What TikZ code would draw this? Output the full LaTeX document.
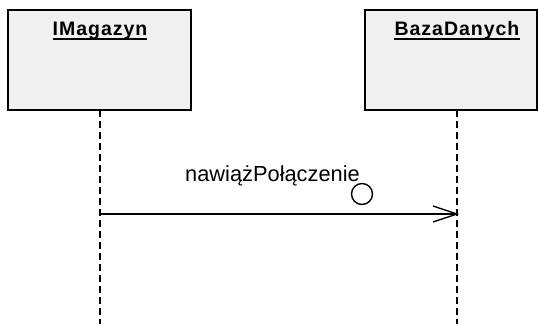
\documentclass[tikz,border=0pt]{standalone}
\usepackage{fontspec}
\setmainfont{Liberation Sans}
\newfontfamily\objfont[LetterSpace=5]{Liberation Sans}
\begin{document}
\begin{tikzpicture}[x=1pt,y=-1pt,
  objbox/.style={draw=black, line width=1.6pt, fill=black!6, inner sep=0pt, minimum width=#1, minimum height=100pt},
  objname/.style={font=\objfont\fontsize{19.5}{22}\selectfont\bfseries, inner sep=0pt, anchor=base},
  lifeline/.style={line width=1.4pt, dash pattern=on 7pt off 4pt},
  msg/.style={line width=1.4pt},
  msglabel/.style={font=\fontsize{21.8}{24}\selectfont, inner sep=0pt, anchor=base}
]
\useasboundingbox (0,0) rectangle (538,324);

% object boxes
\node[objbox=183pt] (magbox) at (99.5,60) {};
\node[objbox=172pt] (dbbox) at (451,60) {};

% object names (underlined)
\node[objname] (magname) at (100,35.5) {IMagazyn};
\node[objname] (dbname) at (457,35.5) {BazaDanych};
\draw[line width=1.5pt] ([yshift=-3.5pt]magname.base west) -- ([yshift=-3.5pt]magname.base east);
\draw[line width=1.5pt] ([yshift=-3.5pt]dbname.base west) -- ([yshift=-3.5pt]dbname.base east);

% lifelines
\coordinate (magtop) at (100,110);
\coordinate (magend) at (100,324);
\coordinate (dbtop) at (457,110);
\coordinate (dbend) at (457,324);
\draw[lifeline] (magtop) -- (magend);
\draw[lifeline] (dbtop) -- (dbend);

% message
\coordinate (msgfrom) at (100,214);
\coordinate (msgto) at (457,214);
\draw[msg] (msgfrom) -- (msgto);
\draw[msg] (433,206) -- (msgto) -- (433,222);
\node[msglabel] (msgname) at (272.5,181) {nawiążPołączenie};
\draw[line width=1.4pt] (362,194) circle (10.5);
\end{tikzpicture}
\end{document}
